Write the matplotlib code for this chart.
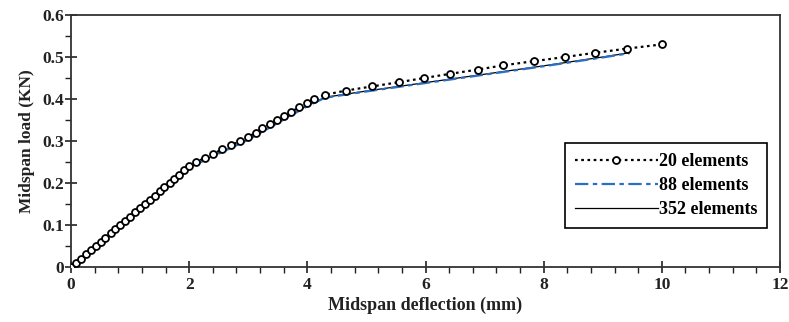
import matplotlib
matplotlib.use("Agg")
import matplotlib.pyplot as plt
from matplotlib.ticker import MultipleLocator

# 20 elements (markers)
defl_20 = [0.00, 0.08, 0.17, 0.25, 0.33, 0.42, 0.50, 0.58, 0.67, 0.75, 0.83,
           0.92, 1.00, 1.08, 1.17, 1.25, 1.33, 1.42, 1.50, 1.58, 1.67, 1.75,
           1.83, 1.92, 2.00, 2.12, 2.27, 2.41, 2.56, 2.71, 2.86, 3.00, 3.13,
           3.24, 3.36, 3.48, 3.60, 3.73, 3.86, 3.99, 4.12, 4.30, 4.65, 5.10,
           5.55, 5.98, 6.42, 6.88, 7.31, 7.83, 8.36, 8.87, 9.41, 10.00]
load_20 = [0.00, 0.01, 0.02, 0.03, 0.04, 0.05, 0.06, 0.07, 0.08, 0.09, 0.10,
           0.11, 0.12, 0.13, 0.14, 0.15, 0.16, 0.17, 0.18, 0.19, 0.20, 0.21,
           0.22, 0.23, 0.24, 0.25, 0.26, 0.27, 0.28, 0.29, 0.30, 0.31, 0.32,
           0.33, 0.34, 0.35, 0.36, 0.37, 0.38, 0.39, 0.40, 0.41, 0.42, 0.43,
           0.44, 0.45, 0.46, 0.47, 0.48, 0.49, 0.50, 0.51, 0.52, 0.53]

# 88 elements
defl_88 = [0.0, 0.5, 1.0, 1.5, 2.05, 2.5, 3.0, 3.5, 4.0, 4.3, 5.0, 6.0, 7.0, 8.0, 9.0, 9.45]
load_88 = [0.0, 0.058, 0.117, 0.177, 0.240, 0.270, 0.303, 0.343, 0.383, 0.403, 0.418,
           0.438, 0.458, 0.478, 0.499, 0.509]

# 352 elements
defl_352 = [0.0, 0.5, 1.0, 1.5, 2.05, 2.5, 3.0, 3.5, 4.0, 4.3, 5.0, 6.0, 7.0, 8.0, 9.0, 9.45]
load_352 = [0.0, 0.059, 0.118, 0.178, 0.241, 0.271, 0.304, 0.344, 0.384, 0.404, 0.419,
            0.439, 0.459, 0.479, 0.500, 0.510]

labels = ["20 elements", "88 elements", "352 elements"]

plt.rcParams['font.family'] = ['Liberation Serif', 'DejaVu Serif']

fig = plt.figure(figsize=(7.89, 3.22), dpi=100)
ax = fig.add_axes([0.09, 0.1708, 0.8986, 0.7826])

ax.plot(defl_352, load_352, color='black', lw=0.9, label=labels[2], zorder=2)
ax.plot(defl_88, load_88, color='#2a6fc4', lw=1.6, linestyle=(0, (6, 2, 2, 2)),
        label=labels[1], zorder=3)
ax.plot(defl_20, load_20, color='black', lw=1.6, linestyle=(0, (1.2, 1.6)),
        marker='o', markersize=5, markerfacecolor='white', markeredgecolor='black',
        markeredgewidth=1.3, label=labels[0], zorder=4)

ax.set_xlim(0, 12)
ax.set_ylim(0, 0.6)
ax.xaxis.set_minor_locator(MultipleLocator(0.4))
ax.yaxis.set_minor_locator(MultipleLocator(0.05))
ax.set_xticks([0, 2, 4, 6, 8, 10, 12])
ax.set_xticklabels(['0', '2', '4', '6', '8', '10', '12'])
ax.set_yticks([0, 0.1, 0.2, 0.3, 0.4, 0.5, 0.6])
ax.set_yticklabels(['0', '0.1', '0.2', '0.3', '0.4', '0.5', '0.6'])

ax.tick_params(which='major', direction='inout', length=8, width=1.2,
               labelsize=12.5, colors='#222222')
ax.tick_params(axis='x', which='major', pad=3)
ax.tick_params(axis='y', which='major', pad=1)
ax.tick_params(which='minor', direction='out', length=4, width=1.0, colors='#222222')
for lab in ax.get_xticklabels() + ax.get_yticklabels():
    lab.set_fontweight('bold')

for s in ax.spines.values():
    s.set_linewidth(1.3)
    s.set_color('#333333')

ax.set_xlabel('Midspan deflection (mm)', fontsize=13, fontweight='bold', color='#222222', labelpad=3)
ax.set_ylabel('Midspan load (KN)', fontsize=12.5, fontweight='bold', color='#222222', labelpad=5)

h, l = ax.get_legend_handles_labels()
order = [2, 1, 0]
leg = ax.legend([h[i] for i in order], [l[i] for i in order], loc='lower right',
                bbox_to_anchor=(0.982, 0.155), borderaxespad=0, fancybox=False,
                edgecolor='black', framealpha=1,
                prop={'weight': 'bold', 'size': 13}, handlelength=4.6,
                numpoints=1, handletextpad=0.05, labelspacing=0.38, borderpad=0.55)
leg.get_frame().set_linewidth(1.2)

fig.savefig('out.png', dpi=100)
